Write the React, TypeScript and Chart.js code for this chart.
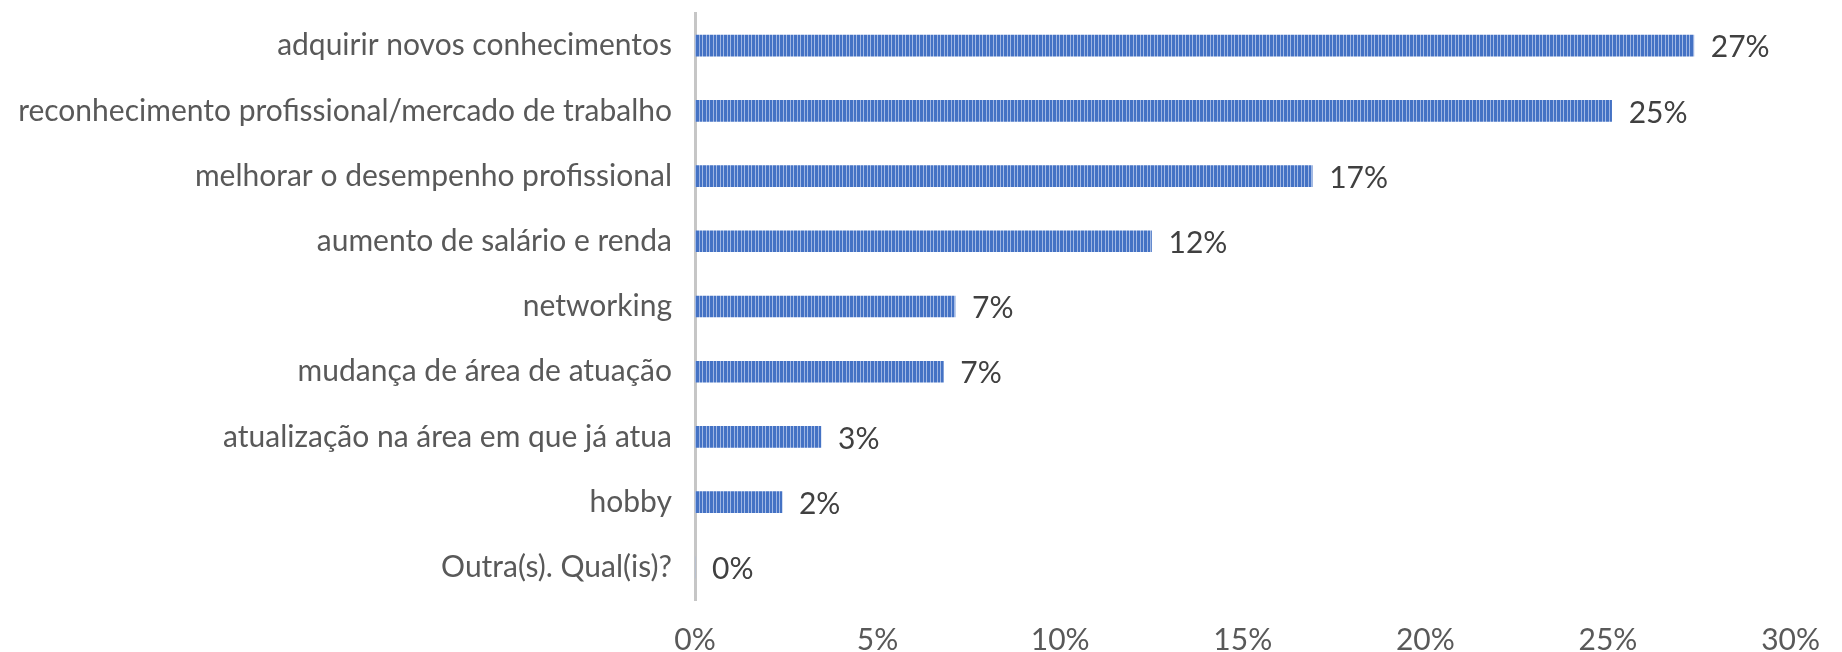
import React, { useEffect, useRef } from "react";
import { Chart, registerables } from "chart.js";

Chart.register(...registerables);

const categories = [
  "adquirir novos conhecimentos",
  "reconhecimento profissional/mercado de trabalho",
  "melhorar o desempenho profissional",
  "aumento de salário e renda",
  "networking",
  "mudança de área de atuação",
  "atualização na área em que já atua",
  "hobby",
  "Outra(s). Qual(is)?",
];
const values = [27.35, 25.1, 16.9, 12.5, 7.12, 6.8, 3.45, 2.38, 0];
const valueLabels = ["27%", "25%", "17%", "12%", "7%", "7%", "3%", "2%", "0%"];
const xTicks = [0, 5, 10, 15, 20, 25, 30];

const FONT = "Lato";
const FONT_SIZE = 30;

function makePattern(): CanvasPattern | string {
  const c = document.createElement("canvas");
  c.width = 7;
  c.height = 4;
  const ctx = c.getContext("2d");
  if (!ctx) return "#4472C4";
  ctx.fillStyle = "#4472C4";
  ctx.fillRect(0, 0, 7, 4);
  ctx.fillStyle = "#A3BAE5";
  ctx.fillRect(2, 0, 1, 4);
  ctx.fillStyle = "#9DB4E2";
  ctx.fillRect(6, 0, 1, 4);
  return ctx.createPattern(c, "repeat") || "#4472C4";
}

const labelPlugin = {
  id: "valueLabels",
  afterDatasetsDraw(chart: any) {
    const ctx = chart.ctx;
    const meta = chart.getDatasetMeta(0);
    ctx.save();
    ctx.font = `${FONT_SIZE}px ${FONT}`;
    ctx.fillStyle = "#404040";
    ctx.textAlign = "left";
    ctx.textBaseline = "middle";
    meta.data.forEach((bar: any, i: number) => {
      ctx.fillText(valueLabels[i], bar.x + 17, bar.y + 2);
    });
    ctx.restore();
  },
};

export default function App() {
  const ref = useRef<HTMLCanvasElement | null>(null);
  useEffect(() => {
    document.body.style.margin = "0";
    document.body.style.overflow = "hidden";
    if (!ref.current) return;
    const chart = new Chart(ref.current, {
      type: "bar",
      data: {
        labels: categories,
        datasets: [
          {
            data: values,
            backgroundColor: makePattern() as any,
            barThickness: 21,
            borderWidth: 0,
          },
        ],
      },
      options: {
        indexAxis: "y",
        animation: false,
        responsive: true,
        maintainAspectRatio: false,
        layout: { padding: { top: 13, right: 30, left: 0, bottom: 0 } },
        plugins: { legend: { display: false }, tooltip: { enabled: false } },
        scales: {
          x: {
            min: 0,
            max: 30,
            afterBuildTicks: (scale: any) => {
              scale.ticks = xTicks.map((v) => ({ value: v }));
            },
            afterFit: (scale: any) => {
              scale.height = 52;
            },
            grid: { display: false, drawTicks: false },
            border: { display: false },
            ticks: {
              padding: 22,
              maxRotation: 0,
              font: { family: FONT, size: FONT_SIZE },
              color: "#595959",
              callback: (v: any) => `${v}%`,
            },
          },
          y: {
            afterFit: (scale: any) => {
              scale.width = 695;
              scale.paddingTop = 0;
              scale.paddingBottom = 0;
            },
            grid: { display: false, drawTicks: false },
            border: { display: true, color: "#C6C6C6", width: 3 },
            ticks: {
              padding: 23,
              font: { family: FONT, size: FONT_SIZE },
              color: "#595959",
            },
          },
        },
      },
      plugins: [labelPlugin],
    });
    return () => chart.destroy();
  }, []);
  return (
    <div style={{ width: 1842, height: 652, position: "relative" }}>
      <canvas ref={ref} />
    </div>
  );
}
